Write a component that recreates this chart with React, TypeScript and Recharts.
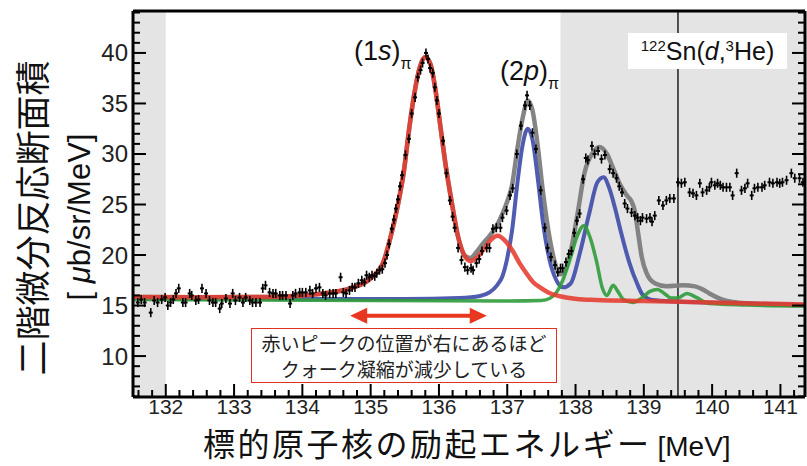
import React from "react";
import {
  ComposedChart,
  Line,
  Scatter,
  XAxis,
  YAxis,
  ReferenceArea,
  ReferenceLine,
  ErrorBar,
} from "recharts";

// 122Sn(d,3He) 励起エネルギースペクトル

const W = 807;
const H = 466;
// 軸は 1px 幅なので、描画領域は x 133–805, y 11–397
const MARGIN = { top: 10, right: 1, bottom: 68, left: 132 };
const PLOT = { left: 133, top: 11, right: 805, bottom: 397 };
const X_DOMAIN: [number, number] = [131.52, 141.36];
const Y_DOMAIN: [number, number] = [5.95, 44.15];

const X_LABELS = [132, 133, 134, 135, 136, 137, 138, 139, 140, 141];
const Y_LABELS = [10, 15, 20, 25, 30, 35, 40];

const SHADE_LEFT: [number, number] = [131.52, 132];
const SHADE_RIGHT: [number, number] = [137.78, 141.36];
const THRESHOLD = 139.5;
const STAT_ERR = 0.45;

// 測定点 [MeV, μb/sr/MeV]
const POINTS: [number, number][] = [
  [131.59, 15.3], [131.64, 15.6], [131.69, 15.3], [131.78, 14.3], [131.83, 15.5],
  [131.88, 15.3], [131.94, 15.6], [131.99, 15.8], [132.03, 15.0], [132.07, 15.3],
  [132.11, 15.6], [132.15, 16.2], [132.19, 16.7], [132.25, 15.3], [132.29, 15.3],
  [132.35, 16.2], [132.38, 16.0], [132.44, 15.5], [132.48, 15.6], [132.53, 16.7],
  [132.59, 16.2], [132.64, 15.5], [132.69, 15.3], [132.73, 15.3], [132.79, 14.7],
  [132.82, 15.2], [132.88, 15.7], [132.94, 15.2], [132.98, 16.2], [133.02, 15.5],
  [133.08, 15.8], [133.13, 15.3], [133.17, 15.8], [133.23, 15.5], [133.27, 15.3],
  [133.32, 15.3], [133.38, 15.3], [133.42, 16.7], [133.46, 17.0], [133.52, 16.3],
  [133.57, 16.2], [133.61, 16.2], [133.67, 16.0], [133.71, 16.0], [133.76, 16.0],
  [133.82, 15.2], [133.86, 16.0], [133.9, 16.2], [133.96, 16.3], [134.0, 16.3],
  [134.05, 16.3], [134.11, 16.5], [134.15, 16.2], [134.2, 16.7], [134.25, 16.8],
  [134.3, 16.2], [134.34, 16.0], [134.4, 16.2], [134.45, 16.2], [134.49, 16.2],
  [134.56, 17.8], [134.6, 16.3], [134.64, 16.2], [134.69, 16.5], [134.73, 16.8],
  [134.77, 16.8], [134.82, 17.2], [134.87, 17.5], [134.91, 17.3], [134.94, 18.0],
  [134.98, 17.8], [135.02, 18.0], [135.06, 17.9], [135.09, 18.2], [135.13, 18.5],
  [135.17, 18.6], [135.21, 19.2], [135.24, 20.0], [135.27, 21.1], [135.31, 22.6],
  [135.34, 23.5], [135.37, 24.6], [135.4, 25.5], [135.43, 26.8], [135.46, 27.9],
  [135.51, 29.9], [135.56, 31.5], [135.6, 34.0], [135.65, 35.6], [135.69, 37.6],
  [135.73, 38.3], [135.76, 39.0], [135.81, 40.0], [135.84, 39.4], [135.87, 38.5],
  [135.91, 38.0], [135.94, 36.6], [135.97, 35.3], [136.0, 34.0], [136.06, 31.3],
  [136.11, 28.1], [136.16, 25.4], [136.2, 23.8], [136.23, 22.7], [136.28, 20.7],
  [136.33, 19.5], [136.38, 18.8], [136.42, 18.5], [136.47, 18.7], [136.5, 18.5],
  [136.55, 19.2], [136.59, 19.6], [136.63, 20.4], [136.7, 20.7], [136.74, 20.7],
  [136.79, 22.6], [136.84, 22.7], [136.9, 22.7], [136.93, 23.7], [136.99, 24.4],
  [137.04, 25.9], [137.08, 26.6], [137.14, 30.0], [137.2, 32.8], [137.26, 34.8],
  [137.29, 35.8], [137.33, 34.8], [137.37, 32.1], [137.42, 30.5], [137.49, 26.4],
  [137.55, 22.7], [137.59, 20.7], [137.64, 19.8], [137.7, 19.0], [137.74, 18.3],
  [137.78, 18.7], [137.81, 18.7], [137.86, 19.3], [137.9, 20.1], [137.94, 20.4],
  [137.98, 22.2], [138.02, 23.4], [138.06, 24.1], [138.11, 27.5], [138.15, 29.6],
  [138.18, 29.4], [138.24, 30.8], [138.28, 30.0], [138.33, 30.3], [138.38, 29.5],
  [138.43, 29.9], [138.5, 28.5], [138.55, 28.1], [138.6, 27.6], [138.64, 26.8],
  [138.68, 26.2], [138.72, 25.1], [138.76, 24.6], [138.82, 24.2], [138.87, 23.9],
  [138.91, 23.7], [138.95, 23.4], [138.98, 23.7], [139.04, 23.6], [139.09, 23.7],
  [139.12, 23.3], [139.16, 23.9], [139.22, 25.4], [139.28, 24.9], [139.33, 25.4],
  [139.38, 25.6], [139.44, 25.6], [139.5, 27.2], [139.55, 27.1], [139.6, 27.2],
  [139.67, 26.2], [139.72, 26.1], [139.77, 25.9], [139.82, 27.1], [139.86, 26.2],
  [139.92, 26.4], [139.96, 26.7], [139.99, 27.2], [140.04, 26.9], [140.08, 27.1],
  [140.12, 26.9], [140.16, 26.7], [140.21, 26.7], [140.26, 26.7], [140.3, 25.9],
  [140.36, 28.1], [140.43, 26.4], [140.48, 26.6], [140.52, 27.1], [140.58, 25.9],
  [140.62, 26.6], [140.67, 26.7], [140.73, 26.7], [140.77, 26.9], [140.84, 27.2],
  [140.89, 27.1], [140.95, 27.2], [140.99, 27.1], [141.03, 27.2], [141.09, 27.4],
  [141.16, 28.1], [141.21, 27.6], [141.28, 27.6], [141.33, 27.2],
];

// フィット曲線
const TOTAL_FIT: [number, number][] = [
  [131.52, 15.85], [132.5, 15.82], [133.5, 15.85], [134.0, 16.0], [134.3, 16.2],
  [134.7, 16.7], [135.0, 17.7], [135.18, 19.2], [135.3, 22.0], [135.4, 25.0],
  [135.48, 28.0], [135.57, 32.8], [135.64, 36.0], [135.72, 38.6], [135.8, 39.6],
  [135.88, 38.8], [135.95, 36.3], [136.02, 32.8], [136.1, 28.8], [136.19, 25.1],
  [136.28, 21.8], [136.37, 20.0], [136.46, 19.7], [136.55, 20.3], [136.64, 21.1],
  [136.73, 21.8], [136.82, 22.6], [136.93, 24.1], [137.0, 25.3], [137.07, 26.9],
  [137.15, 30.6], [137.23, 33.7], [137.3, 35.3], [137.37, 34.3], [137.45, 30.6],
  [137.52, 26.4], [137.62, 21.7], [137.7, 19.2], [137.77, 18.1], [137.84, 18.4],
  [137.94, 20.7], [138.03, 24.1], [138.13, 28.1], [138.25, 30.1], [138.35, 30.7],
  [138.46, 30.0], [138.55, 28.6], [138.65, 27.0], [138.75, 25.9], [138.82, 25.3],
  [138.87, 24.3], [138.92, 22.0], [138.97, 19.8], [139.04, 18.2], [139.16, 17.2],
  [139.33, 16.9], [139.57, 17.0], [139.75, 16.9], [139.86, 16.6], [139.96, 16.2],
  [140.11, 15.7], [140.3, 15.35], [140.55, 15.2], [141.0, 15.1], [141.36, 15.0],
];

const RED_FIT: [number, number][] = [
  [131.52, 15.85], [132.5, 15.82], [133.5, 15.85], [134.0, 16.0], [134.3, 16.2],
  [134.7, 16.7], [135.0, 17.7], [135.18, 19.2], [135.3, 22.0], [135.4, 25.0],
  [135.48, 28.0], [135.57, 32.8], [135.64, 36.0], [135.72, 38.6], [135.8, 39.6],
  [135.88, 38.8], [135.95, 36.3], [136.02, 32.8], [136.1, 28.8], [136.19, 25.1],
  [136.28, 21.8], [136.37, 20.0], [136.46, 19.4], [136.55, 19.7], [136.65, 20.5],
  [136.76, 21.5], [136.86, 21.9], [136.97, 21.4], [137.08, 20.4], [137.18, 19.2],
  [137.29, 18.1], [137.38, 17.3], [137.48, 16.8], [137.6, 16.3], [137.72, 16.0],
  [137.86, 15.8], [138.02, 15.65], [138.3, 15.55], [139.0, 15.45], [140.0, 15.3],
  [141.36, 15.1],
];

const BLUE_FIT: [number, number][] = [
  [131.52, 15.7], [134.0, 15.65], [135.5, 15.65], [136.3, 15.75], [136.6, 15.95],
  [136.74, 16.3], [136.85, 17.0], [136.93, 17.9], [137.0, 19.7], [137.07, 22.4],
  [137.15, 27.2], [137.22, 30.7], [137.3, 32.5], [137.37, 31.4], [137.45, 27.4],
  [137.52, 23.4], [137.62, 19.5], [137.72, 17.5], [137.82, 16.8], [137.93, 17.2],
  [138.06, 20.1], [138.2, 24.1], [138.32, 27.2], [138.41, 27.7], [138.5, 26.5],
  [138.58, 24.6], [138.66, 22.4], [138.79, 19.2], [138.9, 17.2], [138.98, 16.1],
  [139.13, 15.55], [139.5, 15.4], [140.5, 15.2], [141.36, 15.05],
];

const GREEN_FIT: [number, number][] = [
  [131.52, 15.6], [133.0, 15.55], [135.0, 15.5], [137.0, 15.45], [137.5, 15.5],
  [137.62, 15.7], [137.72, 16.3], [137.82, 17.6], [137.92, 19.6], [138.02, 21.8],
  [138.12, 22.9], [138.21, 21.8], [138.31, 19.3], [138.39, 16.8], [138.46, 16.0],
  [138.55, 17.0], [138.62, 16.4], [138.7, 15.6], [138.84, 15.3], [138.96, 15.7],
  [139.09, 16.4], [139.2, 16.6], [139.3, 16.2], [139.4, 15.75], [139.5, 15.75],
  [139.63, 16.2], [139.77, 15.8], [139.96, 15.2], [140.5, 15.05], [141.36, 14.95],
];

const SANS = "'Liberation Sans', Arial, Helvetica, sans-serif";
const JP = "'Noto Sans CJK JP', 'Noto Sans', sans-serif";

const X_MINOR: number[] = [];
for (let i = 0; i <= 48; i++) X_MINOR.push(Math.round((131.6 + i * 0.2) * 10) / 10);
const Y_MINOR: number[] = [];
for (let v = 6; v <= 44; v++) Y_MINOR.push(v);

const toXY = (arr: [number, number][]) => arr.map(([x, y]) => ({ x, y }));

// 目盛り線（内向き）＋ラベル
const isMajorX = (v: number) => Math.abs(v - Math.round(v)) < 1e-6;
const isMajorY = (v: number) => v % 5 === 0;

const makeTick = (side: "bottom" | "top" | "left" | "right") => (props: any) => {
  const { x, y, payload } = props;
  const v = payload.value as number;
  const major = side === "bottom" || side === "top" ? isMajorX(v) : isMajorY(v);
  const len = major ? 13 : 7;
  let line;
  if (side === "bottom") line = <line x1={x} x2={x} y1={PLOT.bottom} y2={PLOT.bottom - len} />;
  else if (side === "top") line = <line x1={x} x2={x} y1={PLOT.top} y2={PLOT.top + len} />;
  else if (side === "left") line = <line x1={PLOT.left} x2={PLOT.left + len} y1={y} y2={y} />;
  else line = <line x1={PLOT.right} x2={PLOT.right - len} y1={y} y2={y} />;
  return (
    <g>
      <g stroke="#000" strokeWidth={2}>{line}</g>
      {side === "bottom" && X_LABELS.includes(v) && (
        <text x={x} y={PLOT.bottom + 17} textAnchor="middle" fontSize={21} fontFamily={SANS} fill="#222">
          {v}
        </text>
      )}
      {side === "left" && Y_LABELS.includes(v) && (
        <text x={PLOT.left - 5} y={y + 8.5} textAnchor="end" fontSize={24} fontFamily={SANS} fill="#222">
          {v}
        </text>
      )}
    </g>
  );
};

const renderPoint = (p: any) => (
  <line x1={p.cx - 2} x2={p.cx + 2} y1={p.cy} y2={p.cy} stroke="#000" strokeWidth={2} />
);

// 画素座標（注釈用）
const xPx = (e: number) =>
  PLOT.left + ((e - X_DOMAIN[0]) / (X_DOMAIN[1] - X_DOMAIN[0])) * (PLOT.right - PLOT.left);
const yPx = (v: number) =>
  PLOT.top + ((Y_DOMAIN[1] - v) / (Y_DOMAIN[1] - Y_DOMAIN[0])) * (PLOT.bottom - PLOT.top);

const ARROW = { from: 134.7, to: 136.7, y: 14.0 };

export default function App() {
  const pointData = POINTS.map(([x, y]) => ({ x, y, err: STAT_ERR }));
  const axisLine = { stroke: "#000", strokeWidth: 3 };
  const tickProps = { interval: 0 as const, tickSize: 0, tickMargin: 0, tickLine: false, axisLine };

  const ax1 = xPx(ARROW.from);
  const ax2 = xPx(ARROW.to);
  const ay = yPx(ARROW.y);

  return (
    <div style={{ position: "absolute", left: 0, top: 0, width: W, height: H, background: "#fff" }}>
      <ComposedChart width={W} height={H} margin={MARGIN}>
        <XAxis dataKey="x" type="number" domain={X_DOMAIN} allowDataOverflow ticks={X_MINOR}
          height={1} {...tickProps} tick={makeTick("bottom")} />
        <XAxis xAxisId="top" orientation="top" type="number" domain={X_DOMAIN} allowDataOverflow
          ticks={X_MINOR} height={1} {...tickProps} tick={makeTick("top")} />
        <YAxis dataKey="y" type="number" domain={Y_DOMAIN} allowDataOverflow ticks={Y_MINOR}
          width={1} {...tickProps} tick={makeTick("left")} />
        <YAxis yAxisId="right" orientation="right" type="number" domain={Y_DOMAIN} allowDataOverflow
          ticks={Y_MINOR} width={1} {...tickProps} tick={makeTick("right")} />

        <ReferenceArea x1={SHADE_LEFT[0]} x2={SHADE_LEFT[1]} fill="#e4e4e4" fillOpacity={1} stroke="none" />
        <ReferenceArea x1={SHADE_RIGHT[0]} x2={SHADE_RIGHT[1]} fill="#e4e4e4" fillOpacity={1} stroke="none" />
        <ReferenceLine x={THRESHOLD} stroke="#000" strokeWidth={1.3} />

        <Line data={toXY(TOTAL_FIT)} dataKey="y" type="monotone" stroke="#7d7d7d" strokeOpacity={0.95}
          strokeWidth={4.5} dot={false} activeDot={false} isAnimationActive={false} />
        <Line data={toXY(BLUE_FIT)} dataKey="y" type="monotone" stroke="#3d4aa6" strokeOpacity={0.9}
          strokeWidth={4} dot={false} activeDot={false} isAnimationActive={false} />
        <Line data={toXY(GREEN_FIT)} dataKey="y" type="monotone" stroke="#2f9c3b" strokeOpacity={0.9}
          strokeWidth={3.5} dot={false} activeDot={false} isAnimationActive={false} />
        <Line data={toXY(RED_FIT)} dataKey="y" type="monotone" stroke="#e63b2e" strokeOpacity={0.88}
          strokeWidth={4.5} dot={false} activeDot={false} isAnimationActive={false} />

        <Scatter data={pointData} dataKey="y" fill="#000" shape={renderPoint} isAnimationActive={false}>
          <ErrorBar dataKey="err" direction="y" width={0} stroke="#000" strokeWidth={1.6} isAnimationActive={false} />
        </Scatter>
      </ComposedChart>

      {/* 矢印 */}
      <svg width={W} height={H} style={{ position: "absolute", left: 0, top: 0, pointerEvents: "none" }}>
        <line x1={ax1 + 12} x2={ax2 - 12} y1={ay} y2={ay} stroke="#e8361f" strokeWidth={4} />
        <polygon points={`${ax1},${ay} ${ax1 + 17},${ay - 8} ${ax1 + 17},${ay + 8}`} fill="#e8361f" />
        <polygon points={`${ax2},${ay} ${ax2 - 17},${ay - 8} ${ax2 - 17},${ay + 8}`} fill="#e8361f" />
      </svg>

      {/* ピークのラベル */}
      <div style={{ position: "absolute", left: 354, top: 37, fontFamily: SANS, fontSize: 27, lineHeight: "28px", color: "#111" }}>
        (1<i>s</i>)<span style={{ fontSize: 16, position: "relative", top: 9 }}>π</span>
      </div>
      <div style={{ position: "absolute", left: 500, top: 57, fontFamily: SANS, fontSize: 27, lineHeight: "28px", color: "#111" }}>
        (2<i>p</i>)<span style={{ fontSize: 16, position: "relative", top: 9 }}>π</span>
      </div>

      {/* 反応名 */}
      <div
        style={{
          position: "absolute", left: 628, top: 33, width: 159, height: 36, background: "#fff",
          fontFamily: SANS, fontSize: 25, lineHeight: "36px", textAlign: "center", color: "#111",
        }}
      >
        <sup style={{ fontSize: 15, verticalAlign: 0, position: "relative", top: -9 }}>122</sup>Sn(<i>d</i>,
        <sup style={{ fontSize: 15, verticalAlign: 0, position: "relative", top: -9 }}>3</sup>He)
      </div>

      {/* 説明ボックス */}
      <div
        style={{
          position: "absolute", left: 251, top: 328, width: 306, height: 55, boxSizing: "border-box",
          border: "1.5px solid #e2301f", background: "#fff", fontFamily: JP, fontSize: 19,
          lineHeight: "26px", textAlign: "center", color: "#222", paddingTop: 1,
        }}
      >
        赤いピークの位置が右にあるほど
        <br />
        クォーク凝縮が減少している
      </div>

      {/* 軸タイトル */}
      <div
        style={{
          position: "absolute", left: 30, top: 218, transform: "translate(-50%, -50%) rotate(-90deg)",
          whiteSpace: "nowrap", fontFamily: JP, fontSize: 35, lineHeight: "35px", color: "#111",
        }}
      >
        二階微分反応断面積
      </div>
      <div
        style={{
          position: "absolute", left: 80, top: 217, transform: "translate(-50%, -50%) rotate(-90deg)",
          whiteSpace: "nowrap", fontFamily: SANS, fontSize: 31, lineHeight: "32px", color: "#111",
        }}
      >
        [ <i>μ</i>b/sr/MeV]
      </div>
      <div
        style={{
          position: "absolute", left: 203, top: 426, whiteSpace: "nowrap", fontFamily: JP,
          fontSize: 32, lineHeight: "32px", letterSpacing: 2.5, color: "#111",
        }}
      >
        標的原子核の励起エネルギー
        <span style={{ fontFamily: SANS, fontSize: 28, marginLeft: 6, letterSpacing: 0 }}>[MeV]</span>
      </div>
    </div>
  );
}
